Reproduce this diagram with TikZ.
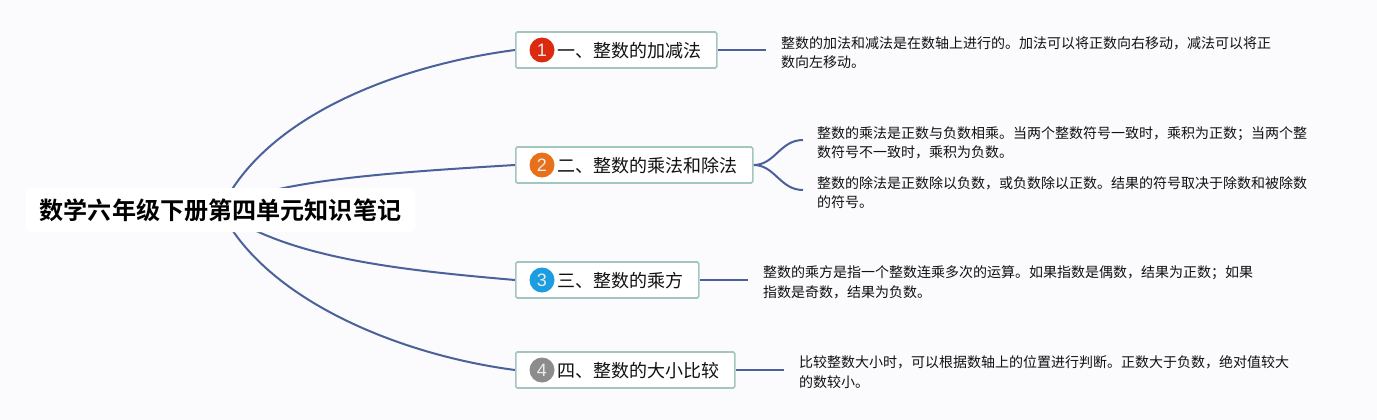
\documentclass[tikz,border=0pt]{standalone}
\usepackage{fontspec}
\setmainfont{Noto Sans CJK SC}
\newfontfamily\cjkbold{Noto Sans CJK SC Bold}
\newfontfamily\numfont{Liberation Sans}
\usetikzlibrary{backgrounds}
\definecolor{bgc}{HTML}{FBFAFD}
\definecolor{linec}{HTML}{4A6199}
\definecolor{boxb}{HTML}{A3C6BF}
\definecolor{txt}{HTML}{111111}
\definecolor{bred}{HTML}{DC2A10}
\definecolor{borange}{HTML}{E8701A}
\definecolor{bblue}{HTML}{1B9DE0}
\definecolor{bgray}{HTML}{8C8C8C}
\tikzset{
  x=1pt,y=-1pt,
  rootbox/.style={fill=white,rounded corners=6pt,minimum width=390pt,minimum height=44pt,inner sep=0pt,font=\cjkbold\fontsize{24.1pt}{24pt}\selectfont,text=black},
  topicbox/.style={draw=boxb,line width=1.6pt,fill=white,rounded corners=1.5pt,minimum height=36pt,inner sep=0pt,anchor=west},
  topictext/.style={font=\fontsize{18pt}{18pt}\selectfont,text=txt,anchor=west,inner sep=0pt},
  badge/.style={circle,minimum size=25pt,inner sep=0pt,text=white!85!gray,font=\numfont\fontsize{18pt}{18pt}\selectfont},
  note/.style={font=\fontsize{14pt}{19.6pt}\selectfont,text=txt,anchor=north west,inner sep=0pt,align=left},
  conn/.style={draw=linec,line width=2pt},
}
\begin{document}
\begin{tikzpicture}
\useasboundingbox (0,0) rectangle (1377,420);
\node[rootbox] (root) at (220.5,210) {数学六年级下册第四单元知识笔记};
\node[topicbox,minimum width=201pt] (t1) at (515,50) {};
\node[topicbox,minimum width=237pt] (t2) at (515,165) {};
\node[topicbox,minimum width=183pt] (t3) at (515,280) {};
\node[topicbox,minimum width=219pt] (t4) at (515,370) {};
\node[badge,fill=bred] (b1) at (542,50) {1};
\node[badge,fill=borange] (b2) at (542,165) {2};
\node[badge,fill=bblue] (b3) at (542,280) {3};
\node[badge,fill=bgray] (b4) at (542,370) {4};
\node[topictext] (l1) at (557,51) {一、整数的加减法};
\node[topictext] (l2) at (557,166) {二、整数的乘法和除法};
\node[topictext] (l3) at (557,281) {三、整数的乘方};
\node[topictext] (l4) at (557,371) {四、整数的大小比较};
\node[note] (n1) at (781,36) {整数的加法和减法是在数轴上进行的。加法可以将正数向右移动，减法可以将正\\数向左移动。};
\node[note] (n2a) at (817,126) {整数的乘法是正数与负数相乘。当两个整数符号一致时，乘积为正数；当两个整\\数符号不一致时，乘积为负数。};
\node[note] (n2b) at (817,176) {整数的除法是正数除以负数，或负数除以正数。结果的符号取决于除数和被除数\\的符号。};
\node[note] (n3) at (763,265.5) {整数的乘方是指一个整数连乘多次的运算。如果指数是偶数，结果为正数；如果\\指数是奇数，结果为负数。};
\node[note] (n4) at (799,355.5) {比较整数大小时，可以根据数轴上的位置进行判断。正数大于负数，绝对值较大\\的数较小。};
\coordinate (e1) at (766,50);
\coordinate (e3) at (748,280);
\coordinate (e4) at (784,370);
\coordinate (e2a) at (803,140);
\coordinate (e2b) at (803,190);
\begin{scope}[on background layer]
\fill[bgc] (0,0) rectangle (1377,420);
\draw[conn] (root.center) .. controls (265,115) and (400,65) .. (t1.west);
\draw[conn] (root.center) .. controls (265,180) and (400,172) .. (t2.west);
\draw[conn] (root.center) .. controls (285,258) and (400,270) .. (t3.west);
\draw[conn] (root.center) .. controls (265,300) and (400,355) .. (t4.west);
\draw[conn] (t1.east) -- (e1);
\draw[conn] (t3.east) -- (e3);
\draw[conn] (t4.east) -- (e4);
\draw[conn] (t2.east) .. controls (775,165) and (780,140) .. (e2a);
\draw[conn] (t2.east) .. controls (775,165) and (780,190) .. (e2b);
\end{scope}
\end{tikzpicture}
\end{document}
